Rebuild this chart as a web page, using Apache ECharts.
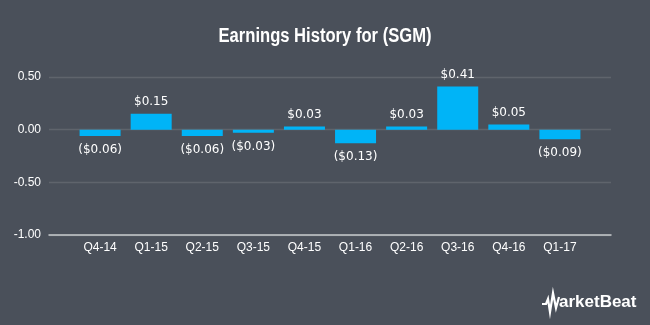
<!DOCTYPE html>
<html><head><meta charset="utf-8">
<script src="https://cdn.jsdelivr.net/npm/echarts@6/dist/echarts.min.js"></script>
<style>html,body{margin:0;padding:0;background:#4a505a;}#c{width:650px;height:325px;}</style>
</head><body><div id="c"></div>
<script>
const categories = ['Q4-14','Q1-15','Q2-15','Q3-15','Q4-15','Q1-16','Q2-16','Q3-16','Q4-16','Q1-17'];
const eps = [-0.06, 0.15, -0.06, -0.03, 0.03, -0.13, 0.03, 0.41, 0.05, -0.09];
const yTicks = [-1.0, -0.5, 0.0, 0.5];

const cats = [''].concat(categories, ['']);
const vals = [null].concat(eps, [null]);
function fmt(v){ return v < 0 ? '($' + Math.abs(v).toFixed(2) + ')' : '$' + v.toFixed(2); }

const chart = echarts.init(document.getElementById('c'));
chart.setOption({
  backgroundColor: '#4a505a',
  animation: false,
  title: [{ text: 'arketBeat', left: 559, top: 294, padding: 0,
    textStyle: { color: '#ffffff', fontSize: 17, fontWeight: 'bold', fontFamily: 'Liberation Sans, Arial' } }],
  grid: { left: 49, right: 39, top: 77, bottom: 90 },
  xAxis: { type: 'category', data: cats, boundaryGap: false,
    axisLine: { show: true, onZero: false, lineStyle: { color: '#c8cacd', width: 1.5 } },
    axisTick: { show: false },
    axisLabel: { color: '#ffffff', fontSize: 12, margin: 7, fontFamily: 'Liberation Sans, Arial' },
    splitLine: { show: false } },
  yAxis: { type: 'value', min: yTicks[0], max: yTicks[yTicks.length-1], interval: 0.5,
    axisLine: { show: false }, axisTick: { show: false },
    axisLabel: { color: '#ffffff', fontSize: 12, margin: 8, fontFamily: 'Liberation Sans, Arial',
      formatter: v => v.toFixed(2) },
    splitLine: { lineStyle: { color: '#5f646c', width: 1.3 } } },
  series: [{
    type: 'bar', data: vals.map(v => v === null ? null : {
      value: v,
      label: { show: true, position: v < 0 ? 'bottom' : 'top', distance: v < 0 ? 8 : 6,
        color: '#ffffff', fontSize: 12, fontFamily: 'DejaVu Sans',
        formatter: () => fmt(v) } }),
    barWidth: 41,
    itemStyle: { color: '#00b4f7' }
  }],
  graphic: [
    { type: 'text', x: 325, y: 36, scaleX: 0.83, originX: 0, originY: 0,
      style: { text: 'Earnings History for (SGM)', fill: '#ffffff', fontSize: 20, fontWeight: 'bold',
        fontFamily: 'Liberation Sans, Arial', align: 'center', verticalAlign: 'middle' } },
    { type: 'polyline', shape: { points: [[542,304],[546,304],[548,299],[550,312],[553,293],[556,308],[559,297]] },
      style: { stroke: '#ffffff', lineWidth: 2.2, fill: null } }
  ]
});
</script></body></html>
